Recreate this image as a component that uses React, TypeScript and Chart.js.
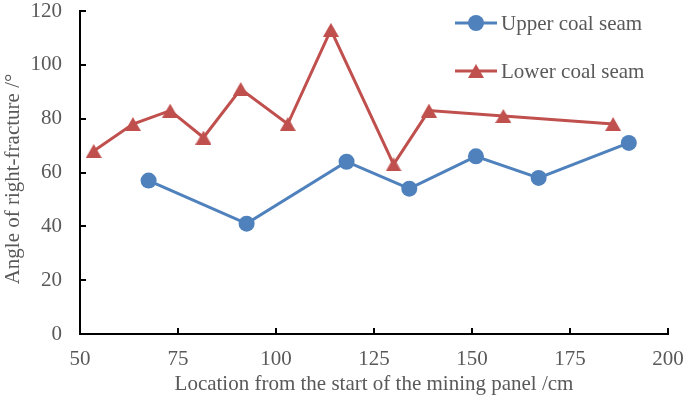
import React, { useEffect, useRef } from 'react';
import { Chart, registerables } from 'chart.js';

Chart.register(...registerables);

const xTickValues = [50, 75, 100, 125, 150, 175, 200];
const yTickValues = [0, 20, 40, 60, 80, 100, 120];

const upperX = [67.5, 92.5, 118, 134, 151, 167, 190];
const upperY = [57, 41, 64, 54, 66, 58, 71];

const lowerX = [53.5, 63.5, 73, 81.5, 91, 103, 114, 130, 139, 158, 186];
const lowerY = [68, 78, 83, 73, 91, 78, 113, 63, 83, 81, 78];

const seriesNames = ['Upper coal seam', 'Lower coal seam'];
const seriesColors = ['#4F81BD', '#C0504D'];

const xTitle = 'Location from the start of the mining panel /cm';
const yTitle = 'Angle of right-fracture /°';

const FONT = "'Liberation Serif', 'Times New Roman', serif";
const TEXT = '#595959';
const FS = 21;

function makeTriangle(color: string, w: number, h: number) {
  const c = document.createElement('canvas');
  c.width = w;
  c.height = h;
  const ctx = c.getContext('2d')!;
  ctx.fillStyle = color;
  ctx.beginPath();
  ctx.moveTo(w / 2, 0);
  ctx.lineTo(w, h);
  ctx.lineTo(0, h);
  ctx.closePath();
  ctx.fill();
  return c;
}

const insideTicks = {
  id: 'insideTicks',
  beforeDatasetsDraw(chart: any) {
    const { ctx, chartArea } = chart;
    const xs = chart.scales.x;
    const ys = chart.scales.y;
    ctx.save();
    ctx.strokeStyle = '#000';
    ctx.lineWidth = 2;
    ctx.beginPath();
    xTickValues.forEach((v) => {
      const px = Math.round(xs.getPixelForValue(v));
      ctx.moveTo(px, chartArea.bottom);
      ctx.lineTo(px, chartArea.bottom - 6);
    });
    yTickValues.forEach((v) => {
      const py = Math.round(ys.getPixelForValue(v));
      ctx.moveTo(chartArea.left, py);
      ctx.lineTo(chartArea.left + 6, py);
    });
    ctx.stroke();
    ctx.restore();
  },
};

const yTitlePlugin = {
  id: 'yTitlePlugin',
  afterDraw(chart: any) {
    const { ctx } = chart;
    ctx.save();
    ctx.translate(19, 179);
    ctx.rotate(-Math.PI / 2);
    ctx.fillStyle = TEXT;
    ctx.font = `${FS}px ${FONT}`;
    ctx.textAlign = 'center';
    ctx.textBaseline = 'alphabetic';
    ctx.fillText(yTitle, 0, 0);
    ctx.restore();
  },
};

const customLegend = {
  id: 'customLegend',
  afterDraw(chart: any) {
    const { ctx } = chart;
    const rows = [23, 71];
    chart.data.datasets.forEach((ds: any, i: number) => {
      const y = rows[i];
      ctx.save();
      ctx.strokeStyle = ds.borderColor;
      ctx.lineWidth = 3;
      ctx.beginPath();
      ctx.moveTo(455, y);
      ctx.lineTo(497, y);
      ctx.stroke();
      if (ds.pointStyle === 'circle') {
        ctx.fillStyle = ds.pointBackgroundColor;
        ctx.beginPath();
        ctx.arc(476, y, ds.pointRadius, 0, Math.PI * 2);
        ctx.fill();
      } else {
        const img = ds.pointStyle as HTMLCanvasElement;
        ctx.drawImage(img, 476 - img.width / 2, y - img.height / 2);
      }
      ctx.fillStyle = TEXT;
      ctx.font = `${FS}px ${FONT}`;
      ctx.textBaseline = 'middle';
      ctx.textAlign = 'left';
      ctx.fillText(ds.label, 501, y + 1);
      ctx.restore();
    });
  },
};

export default function App() {
  const ref = useRef<HTMLCanvasElement | null>(null);

  useEffect(() => {
    document.body.style.margin = '0';
    const canvas = ref.current;
    if (!canvas) return;
    const tri = makeTriangle(seriesColors[1], 16, 14);
    const chart = new Chart(canvas, {
      type: 'line',
      data: {
        datasets: [
          {
            label: seriesNames[0],
            data: upperX.map((x, i) => ({ x, y: upperY[i] })),
            borderColor: seriesColors[0],
            backgroundColor: seriesColors[0],
            pointBackgroundColor: seriesColors[0],
            pointBorderColor: seriesColors[0],
            pointStyle: 'circle',
            pointRadius: 8,
            pointBorderWidth: 0,
            borderWidth: 3,
            tension: 0,
          },
          {
            label: seriesNames[1],
            data: lowerX.map((x, i) => ({ x, y: lowerY[i] })),
            borderColor: seriesColors[1],
            backgroundColor: seriesColors[1],
            pointBackgroundColor: seriesColors[1],
            pointBorderColor: seriesColors[1],
            pointStyle: tri,
            pointRadius: 8,
            borderWidth: 3,
            tension: 0,
          },
        ],
      },
      options: {
        responsive: false,
        animation: false,
        devicePixelRatio: 1,
        layout: { padding: { top: 11, right: 17, left: 0, bottom: 0 } },
        plugins: {
          legend: { display: false },
          tooltip: { enabled: false },
        },
        scales: {
          x: {
            type: 'linear',
            min: 50,
            max: 200,
            ticks: {
              stepSize: 25,
              color: TEXT,
              font: { family: FONT, size: FS },
              padding: 13,
              maxRotation: 0,
            },
            grid: { display: false, drawTicks: false },
            border: { display: true, color: '#000', width: 2 },
            title: {
              display: true,
              text: xTitle,
              color: TEXT,
              font: { family: FONT, size: FS },
              padding: { top: 0, bottom: 6 },
            },
            afterFit: (s: any) => {
              s.height = 69;
              s.paddingLeft = 0;
              s.paddingRight = 0;
              s.paddingTop = 0;
              s.paddingBottom = 0;
            },
          },
          y: {
            type: 'linear',
            min: 0,
            max: 120,
            ticks: {
              stepSize: 20,
              color: TEXT,
              font: { family: FONT, size: FS },
              padding: 18,
            },
            grid: { display: false, drawTicks: false },
            border: { display: true, color: '#000', width: 2 },
            title: { display: false, text: yTitle },
            afterFit: (s: any) => {
              s.width = 80;
              s.paddingLeft = 0;
              s.paddingRight = 0;
              s.paddingTop = 0;
              s.paddingBottom = 0;
            },
          },
        },
      },
      plugins: [insideTicks, yTitlePlugin, customLegend],
    } as any);
    return () => chart.destroy();
  }, []);

  return (
    <div style={{ position: 'absolute', left: 0, top: 0, width: 685, height: 403 }}>
      <canvas ref={ref} width={685} height={403} style={{ display: 'block', width: 685, height: 403 }} />
    </div>
  );
}
